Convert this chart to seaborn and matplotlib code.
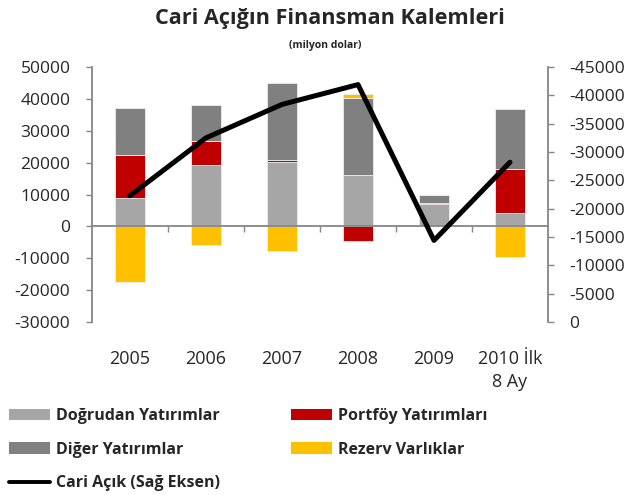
import matplotlib
matplotlib.use("Agg")
import matplotlib.pyplot as plt
import seaborn as sns
import numpy as np
from matplotlib.patches import Patch
from matplotlib.lines import Line2D

# veriler (milyon dolar)
years = ["2005", "2006", "2007", "2008", "2009", "2010 İlk\n8 Ay"]
dogrudan = [9000, 19400, 20100, 16000, 6900, 4300]
portfoy = [13300, 7300, 700, -4700, 300, 13700]
diger = [15000, 11300, 24100, 24200, 2800, 18900]
rezerv = [-17500, -5900, -7700, 1200, 0, -9700]
cari_acik = [-22300, -32500, -38400, -41900, -14400, -28200]

series = [
    ("Doğrudan Yatırımlar", dogrudan, "#A6A6A6"),
    ("Portföy Yatırımları", portfoy, "#C00000"),
    ("Diğer Yatırımlar", diger, "#808080"),
    ("Rezerv Varlıklar", rezerv, "#FFC000"),
]

sns.set_theme(style="white")
plt.rcParams["font.family"] = ["Open Sans", "DejaVu Sans"]
plt.rcParams["axes.unicode_minus"] = False
grey = "#868686"

fig = plt.figure(figsize=(6.32, 4.95), dpi=100)
ax = fig.add_axes([0.1456, 0.3495, 0.7215, 0.5151])
ax2 = ax.twinx()

x = np.arange(len(years))
pos_bottom = np.zeros(len(years))
neg_bottom = np.zeros(len(years))
for name, vals, color in series:
    vals = np.array(vals, dtype=float)
    bottom = np.where(vals >= 0, pos_bottom, neg_bottom)
    ax.bar(x, vals, bottom=bottom, width=0.4, color=color,
           edgecolor="#EDEDED", linewidth=0.6, zorder=2)
    pos_bottom += np.clip(vals, 0, None)
    neg_bottom += np.clip(vals, None, 0)

# cari açık çizgisi (sağ eksen)
sns.lineplot(x=x, y=cari_acik, ax=ax2, color="black", linewidth=3.6,
             legend=False)

# sol eksen
ax.set_xlim(-0.5, len(years) - 0.5)
ax.set_ylim(-30000, 50000)
ax.set_yticks(np.arange(-30000, 50001, 10000))
ax.tick_params(axis="y", which="major", direction="out", length=4.5,
               width=1, color=grey, pad=11, labelsize=12.5, left=True)

# sağ eksen (ters)
ax2.set_ylim(0, -45000)
ax2.set_yticks(np.arange(0, -45001, -5000))
ax2.tick_params(axis="y", direction="out", length=4.5, width=1,
                color=grey, pad=11, labelsize=12.5, right=True)
ax2.set_ylabel("")
ax2.grid(False)
ax.grid(False)

# x ekseni sıfır çizgisinde
ax.spines["bottom"].set_position(("data", 0))
ax.set_xticks(x)
ax.set_xticklabels(years, fontsize=13, linespacing=1.35)
ax.set_xticks(np.arange(0.5, len(years) - 1, 1), minor=True)
ax.tick_params(axis="x", which="major", length=0, pad=89)
ax.tick_params(axis="x", which="minor", direction="out", length=4.5,
               width=1, color=grey, bottom=True)

for a in (ax, ax2):
    for s in ("left", "right", "bottom"):
        a.spines[s].set_color(grey)
        a.spines[s].set_linewidth(1.3)
    a.spines["top"].set_visible(False)
ax2.spines["bottom"].set_visible(False)
ax.spines["right"].set_visible(False)
ax2.spines["left"].set_visible(False)

# başlık
fig.text(0.522, 0.962, "Cari Açığın Finansman Kalemleri", ha="center",
         va="center", fontsize=15.6, fontweight="bold")
fig.text(0.514, 0.909, "(milyon dolar)", ha="center", va="center",
         fontsize=7.5, fontweight="bold")

# lejant
h = {name: Patch(facecolor=color, edgecolor="none") for name, _, color in series}
line_h = Line2D([], [], color="black", linewidth=2.8)
handles = [h["Doğrudan Yatırımlar"], h["Diğer Yatırımlar"], line_h,
           h["Portföy Yatırımları"], h["Rezerv Varlıklar"]]
labels = ["Doğrudan Yatırımlar", "Diğer Yatırımlar", "Cari Açık (Sağ Eksen)",
          "Portföy Yatırımları", "Rezerv Varlıklar"]
fig.legend(handles, labels, loc="upper left",
           bbox_to_anchor=(-0.004, 0.198), ncol=2, frameon=False,
           prop={"weight": "bold", "size": 11.5},
           handlelength=2.6, handleheight=0.75, handletextpad=0.38,
           labelspacing=1.1, columnspacing=4.4, borderaxespad=0.3)

fig.savefig("out.png", dpi=100)
